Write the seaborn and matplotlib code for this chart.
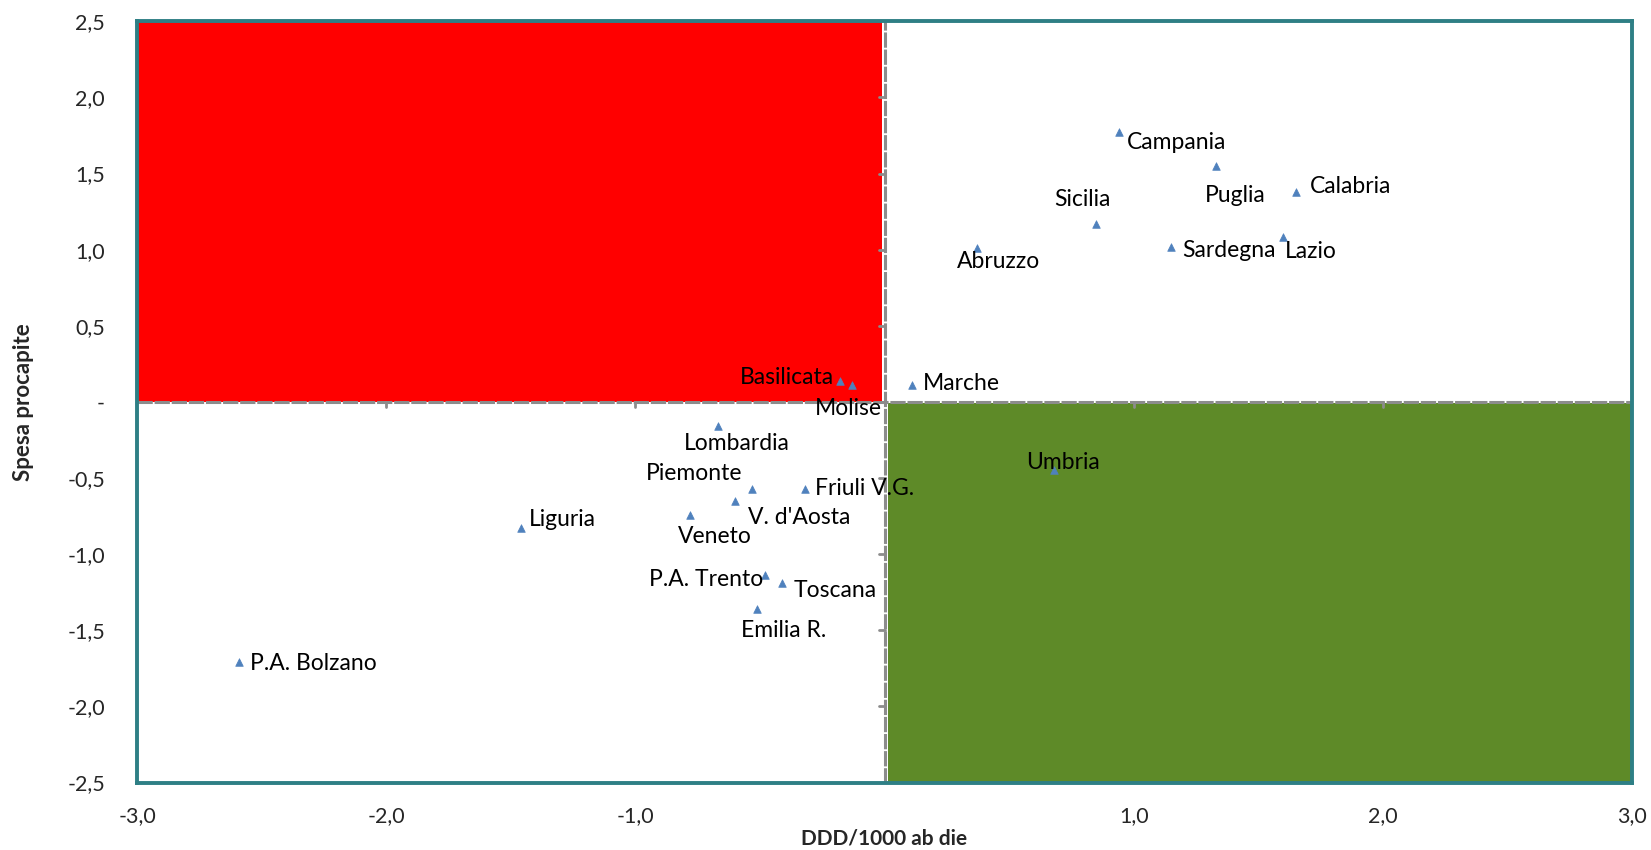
import numpy as np
import pandas as pd
import seaborn as sns
import matplotlib.pyplot as plt
from matplotlib.patches import Rectangle

# data
regioni = ["Campania", "Puglia", "Calabria", "Sicilia", "Lazio", "Sardegna", "Abruzzo",
           "Marche", "Basilicata", "Molise", "Umbria", "Lombardia", "Piemonte", "Friuli V.G.",
           "V. d'Aosta", "Veneto", "Liguria", "P.A. Trento", "Toscana", "Emilia R.", "P.A. Bolzano"]
ddd = [0.94, 1.33, 1.65, 0.85, 1.60, 1.15, 0.37,
       0.11, -0.18, -0.13, 0.68, -0.67, -0.53, -0.32,
       -0.60, -0.78, -1.46, -0.48, -0.41, -0.51, -2.59]
spesa = [1.77, 1.55, 1.38, 1.17, 1.08, 1.02, 1.01,
         0.11, 0.14, 0.11, -0.45, -0.16, -0.57, -0.57,
         -0.65, -0.74, -0.83, -1.14, -1.19, -1.36, -1.71]

x_ticks = [-3, -2, -1, 0, 1, 2, 3]
x_ticklabels = ["-3,0", "-2,0", "-1,0", "", "1,0", "2,0", "3,0"]
y_ticks = [2.5, 2.0, 1.5, 1.0, 0.5, 0.0, -0.5, -1.0, -1.5, -2.0, -2.5]
y_ticklabels = ["2,5", "2,0", "1,5", "1,0", "0,5", "-", "-0,5", "-1,0", "-1,5", "-2,0", "-2,5"]

# label offsets in points (dx, dy, ha, va)
offsets = {
    "Campania": (6, -7, "left", "center"),
    "Puglia": (-8, -14, "left", "top"),
    "Calabria": (10, 4, "left", "center"),
    "Sicilia": (-30, 10, "left", "bottom"),
    "Lazio": (1, -10, "left", "center"),
    "Sardegna": (8, -3, "left", "center"),
    "Abruzzo": (-14, -2, "left", "top"),
    "Marche": (8, 1, "left", "center"),
    "Basilicata": (-4, 2, "right", "center"),
    "Molise": (-27, -9, "left", "top"),
    "Umbria": (-20, 6, "left", "center"),
    "Lombardia": (-24, -5, "left", "top"),
    "Piemonte": (-7, 11, "right", "center"),
    "Friuli V.G.": (7, 0, "left", "center"),
    "V. d'Aosta": (9, -12, "left", "center"),
    "Veneto": (-9, -8, "left", "top"),
    "Liguria": (6, 6, "left", "center"),
    "P.A. Trento": (-1, -3, "right", "center"),
    "Toscana": (8, -5, "left", "center"),
    "Emilia R.": (-12, -8, "left", "top"),
    "P.A. Bolzano": (8, -1, "left", "center"),
}

df = pd.DataFrame({"regione": regioni, "ddd": ddd, "spesa": spesa})

sns.set_style("white")
plt.rcParams["font.family"] = ["Lato", "DejaVu Sans"]

fig = plt.figure(figsize=(16.51, 8.5), dpi=100)
ax = fig.add_axes([0.083, 0.0794, 0.9055, 0.8956])

ax.set_xlim(-3, 3)
ax.set_ylim(-2.5, 2.5)

# quadrant shading
ax.add_patch(Rectangle((-3, 0), 2.99, 2.5, facecolor="#FF0000", edgecolor="none", zorder=0))
ax.add_patch(Rectangle((0.015, -2.5), 2.985, 2.49, facecolor="#5E8A28", edgecolor="none", zorder=0))

# axes crossing at zero
ax.axhline(0, color="#8C8C8C", lw=2.2, ls=(0, (5, 0.6)), zorder=1)
ax.axvline(0, color="#8C8C8C", lw=2.2, ls=(0, (5, 0.6)), zorder=1)
for t in x_ticks[1:-1]:
    if t != 0:
        ax.plot([t, t], [0, -0.035], color="#8C8C8C", lw=2, zorder=1)
for t in y_ticks[1:-1]:
    if t != 0:
        ax.plot([0, -0.022], [t, t], color="#8C8C8C", lw=2, zorder=1)

sns.scatterplot(data=df, x="ddd", y="spesa", marker="^", s=30, color="#4F81BD",
                edgecolor="#4F81BD", linewidth=0.5, ax=ax, zorder=3)

for _, r in df.iterrows():
    dx, dy, ha, va = offsets[r["regione"]]
    ax.annotate(r["regione"], (r["ddd"], r["spesa"]), xytext=(dx, dy),
                textcoords="offset points", ha=ha, va=va, fontsize=16.5, color="black", zorder=4)

ax.set_xticks(x_ticks)
ax.set_xticklabels(x_ticklabels)
ax.set_yticks(y_ticks)
ax.set_yticklabels(y_ticklabels)
ax.tick_params(axis="x", length=0, pad=17, labelsize=15.5)
ax.tick_params(axis="y", length=0, pad=23, labelsize=15.5)

for s in ax.spines.values():
    s.set_color("#2E7F85")
    s.set_linewidth(2.8)

ax.set_xlabel("DDD/1000 ab die", fontsize=15, fontweight="bold", labelpad=2)
ax.set_ylabel("Spesa procapite", fontsize=16, fontweight="bold", labelpad=24)

fig.savefig("out.png", dpi=100)
